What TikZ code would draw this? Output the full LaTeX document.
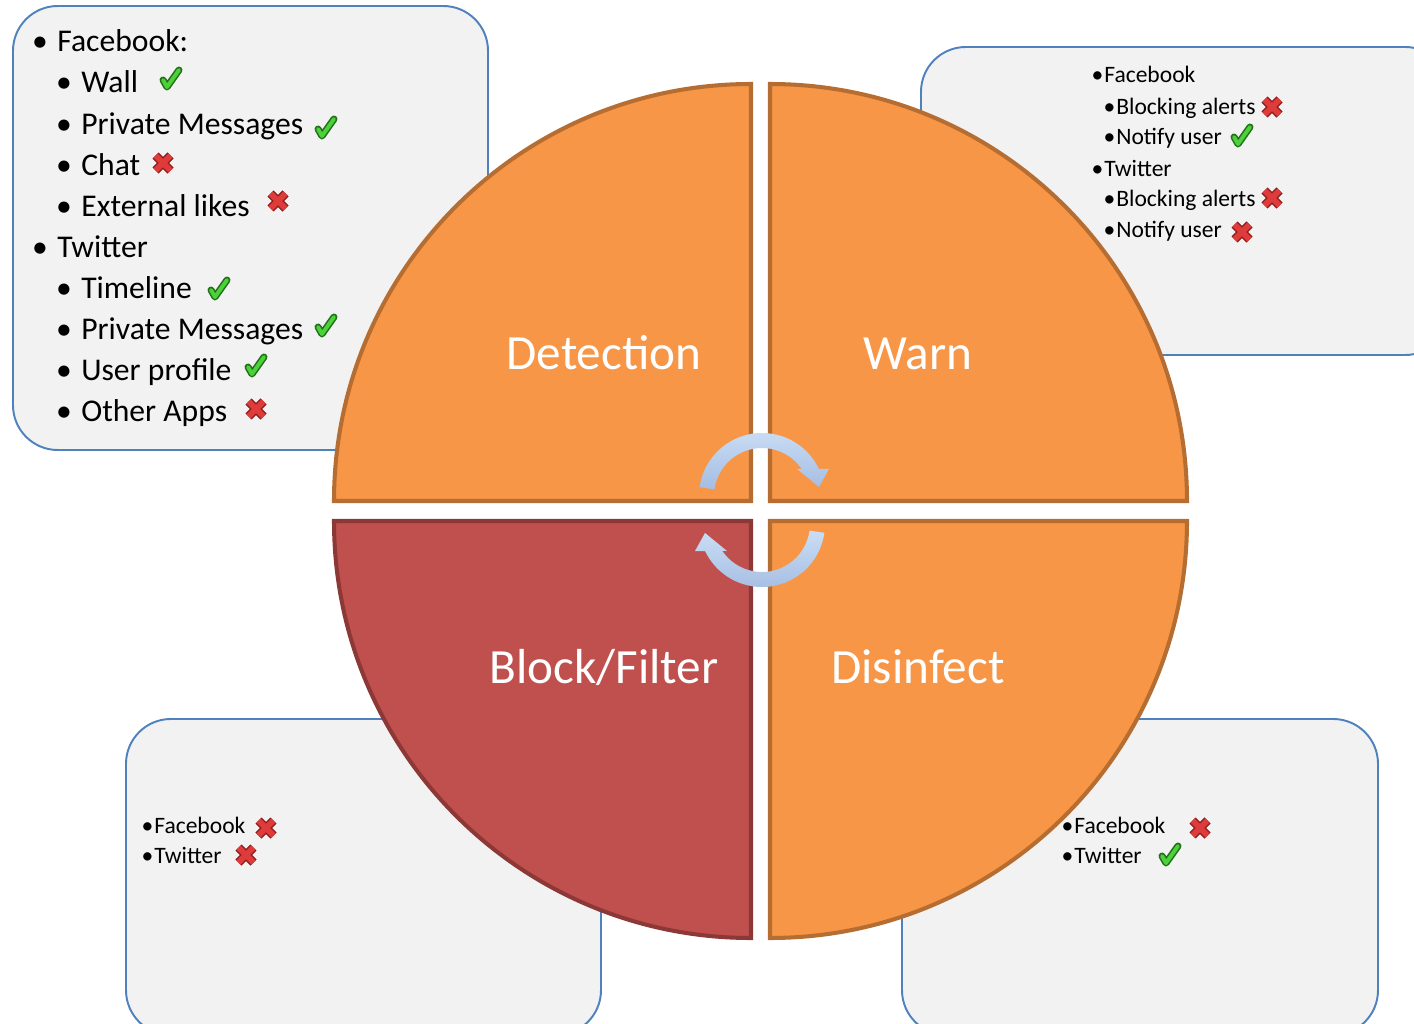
\documentclass[tikz,border=0pt]{standalone}
\usepackage{fontspec}
\setmainfont{Carlito}
\definecolor{orf}{HTML}{F79646}
\definecolor{ors}{HTML}{B66D31}
\definecolor{rdf}{HTML}{C0504D}
\definecolor{rds}{HTML}{8C3836}
\definecolor{bxf}{HTML}{F2F2F2}
\definecolor{bxs}{HTML}{4F81BD}
\definecolor{arT}{HTML}{CADDF5}
\definecolor{arB}{HTML}{A5BDE2}
\definecolor{ckf}{HTML}{4CD13A}
\definecolor{cks}{HTML}{23711A}
\definecolor{xf}{HTML}{DE3B3B}
\definecolor{xs}{HTML}{8E1B1B}
\newcommand\bulA{\llap{•\hspace{5.4pt}}}
\newcommand\bulB{\llap{•\hspace{0.6pt}}}
\tikzset{
 box/.style={fill=bxf, draw=bxs, line width=1.1pt, rounded corners=25.5pt},
 quad/.style={fill=orf, draw=ors, line width=2.3pt},
 quadr/.style={fill=rdf, draw=rds, line width=2.3pt},
 big/.style={text=white, font=\fontsize{28}{28}\selectfont, anchor=base, inner sep=0pt},
 la/.style={font=\fontsize{18}{18}\selectfont, anchor=base west, inner sep=0pt},
 sm/.style={font=\fontsize{13.4}{13.4}\selectfont, anchor=base west, inner sep=0pt},
 cyc/.style={top color=arT, bottom color=arB, draw=none},
 chk/.pic={
  \draw[cks, line width=4pt, line join=round, line cap=round] (-8,1) -- (-4,8) -- (8,-9);
  \draw[ckf, line width=2.2pt, line join=round, line cap=round] (-8,1) -- (-4,8) -- (8,-9);
 },
 crs/.pic={
  \draw[xs, line width=5pt] (-7.5,-7.5) -- (7.5,7.5) (-7.5,7.5) -- (7.5,-7.5);
  \draw[xf, line width=3.3pt] (-7.5,-7.5) -- (7.5,7.5) (-7.5,7.5) -- (7.5,-7.5);
 }
}
\begin{document}
\begin{tikzpicture}[x=0.02cm, y=-0.02cm]
\useasboundingbox (0,0) rectangle (1414,1024);
\clip (0,0) rectangle (1414,1024);
\fill[white] (0,0) rectangle (1414,1024);
% boxes
\draw[box] (13,6) rectangle (488,450);
\draw[box] (921,47) rectangle (1450,355);
\draw[box] (126,719) rectangle (601,1035);
\draw[box] (902,719) rectangle (1378,1035);
% quadrants
\draw[quad] (751,501) -- (334,501) arc[start angle=180, end angle=270, radius=417] -- cycle;
\draw[quad] (770,501) -- (770,84) arc[start angle=270, end angle=360, radius=417] -- cycle;
\draw[quadr] (751,521) -- (751,938) arc[start angle=90, end angle=180, radius=417] -- cycle;
\draw[quad] (770,521) -- (1187,521) arc[start angle=0, end angle=90, radius=417] -- cycle;
% quadrant labels
\node[big] (det) at (604,369) {Detection};
\node[big] (warn) at (918,369) {Warn};
\node[big] (blk) at (604,683) {Block/Filter};
\node[big] (dis) at (918,683) {Disinfect};
% cycle arrows
\begin{scope}[shift={(762,496)}]
\path[cyc] (188:63) arc[start angle=188, end angle=334.6, radius=63] -- (67,-27) -- (57,-9) -- (35,-27) -- (325.8:48) arc[start angle=325.8, end angle=188, radius=48] -- cycle;
\end{scope}
\begin{scope}[shift={(762,524)}]
\path[cyc] (8:63) arc[start angle=8, end angle=154.6, radius=63] -- (-67,27) -- (-57,9) -- (-35,27) -- (145.8:48) arc[start angle=145.8, end angle=8, radius=48] -- cycle;
\end{scope}
% top-left box text
\node[la] (a1) at (57,52) {\bulA Facebook:};
\node[la] (a2) at (81,93) {\bulA Wall};
\node[la] (a3) at (81,134) {\bulA Private Messages};
\node[la] (a4) at (81,175) {\bulA Chat};
\node[la] (a5) at (81,216) {\bulA External likes};
\node[la] (a6) at (57,257) {\bulA Twitter};
\node[la] (a7) at (81,298) {\bulA Timeline};
\node[la] (a8) at (81,339) {\bulA Private Messages};
\node[la] (a9) at (81,380) {\bulA User profile};
\node[la] (a10) at (81,421) {\bulA Other Apps};
\pic at (171,79) {chk};
\pic at (326,128) {chk};
\pic at (163,163) {crs};
\pic at (278,201) {crs};
\pic at (219,289) {chk};
\pic at (326,326) {chk};
\pic at (256,366) {chk};
\pic at (256,409) {crs};
% top-right box text
\node[sm] (b1) at (1104,83) {\bulB Facebook};
\node[sm] (b2) at (1116,114) {\bulB Blocking alerts};
\node[sm] (b3) at (1116,145) {\bulB Notify user};
\node[sm] (b4) at (1104,176) {\bulB Twitter};
\node[sm] (b5) at (1116,207) {\bulB Blocking alerts};
\node[sm] (b6) at (1116,237) {\bulB Notify user};
\pic at (1272,107) {crs};
\pic at (1242,136) {chk};
\pic at (1272,198) {crs};
\pic at (1242,232) {crs};
% bottom-left box text
\node[sm] (c1) at (154,833) {\bulB Facebook};
\node[sm] (c2) at (154,863) {\bulB Twitter};
\pic at (266,828) {crs};
\pic at (246,855) {crs};
% bottom-right box text
\node[sm] (d1) at (1074,833) {\bulB Facebook};
\node[sm] (d2) at (1074,863) {\bulB Twitter};
\pic at (1200,828) {crs};
\pic at (1170,855) {chk};
\end{tikzpicture}
\end{document}
